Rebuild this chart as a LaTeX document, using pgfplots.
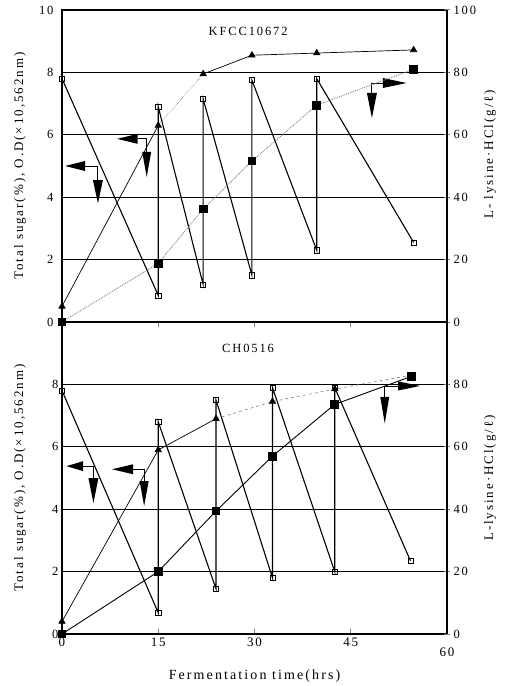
\documentclass[border=0pt]{standalone}
\usepackage{fontspec}
\setmainfont{Liberation Serif}
\newfontfamily\spfont[LetterSpace=15]{Liberation Serif}
\usepackage{pgfplots}
\pgfplotsset{compat=1.18}
\begin{document}
\begin{tikzpicture}
\useasboundingbox (-62pt,-364pt) rectangle (445pt,322pt);
\pgfplotsset{
  base/.style={scale only axis, width=385pt, height=312pt, xmin=0, xmax=60, clip=false,
    /pgf/number format/assume math mode=true,
    yticklabel style={font=\spfont\fontsize{12.5}{14}\selectfont},
    xticklabel style={font=\spfont\fontsize{13}{15}\selectfont},
    axis line style={line width=1.1pt}},
  leftax/.style={base, ymin=0, ymax=10, ytick pos=left, ytick style={draw=none},
    ymajorgrids, major grid style={black, line width=1pt},
    ylabel={Total sugar(\%), O.D(×10,562nm)},
    ylabel style={font=\spfont\fontsize{13}{15}\selectfont, at={(axis description cs:-0.109,0.5)}, anchor=center}},
  rightax/.style={base, ymin=0, ymax=100, axis y line*=right, axis x line=none,
    tick align=center, major tick length=6pt, ytick style={line width=1pt},
    ylabel style={font=\spfont\fontsize{13}{15}\selectfont, anchor=center}},
  sugar/.style={black, line width=1.1pt, mark=square, mark size=2.6pt, mark options={fill=white, line width=0.6pt}},
  od/.style={black, line width=0.7pt, mark=triangle*, mark size=3.6pt},
  lys/.style={black, line width=0.9pt, mark=square*, mark size=3.8pt},
}
% ---------------- top panel (KFCC10672) ----------------
\begin{axis}[leftax, at={(0,0)}, anchor=south west, ytick={0,2,...,10},
  xtick={15,30,45}, xticklabels={}, xtick pos=left, tick align=outside, major tick length=5pt,
  xtick style={line width=1pt}]
\addplot[sugar] coordinates {(0,7.8) (15,0.85) (15,6.9) (22,1.2) (22,7.15) (29.6,1.5) (29.6,7.75) (39.7,2.3) (39.7,7.8) (54.8,2.55)};
\addplot[od] coordinates {(0,0.5) (15,6.3)};
\addplot[gray, line width=0.6pt, densely dotted] coordinates {(15,6.3) (22,7.95)};
\addplot[od] coordinates {(22,7.95) (29.6,8.55) (39.7,8.62) (54.8,8.72)};
\node[font=\spfont\fontsize{12.5}{15}\selectfont] at (axis cs:29,9.3) {KFCC10672};
% annotations
\draw[line width=0.9pt] (axis cs:3.6,5.0) -- (axis cs:5.6,5.0) -- (axis cs:5.6,4.55);
\fill (axis cs:0.5,5.0) -- ([yshift=5pt]axis cs:3.6,5.0) -- ([yshift=-5pt]axis cs:3.6,5.0) -- cycle;
\fill ([xshift=-5pt]axis cs:5.6,4.55) -- ([xshift=5pt]axis cs:5.6,4.55) -- (axis cs:5.6,3.8) -- cycle;
\draw[line width=0.9pt] (axis cs:11.8,5.87) -- (axis cs:13.2,5.87) -- (axis cs:13.2,5.45);
\fill (axis cs:8.6,5.87) -- ([yshift=5pt]axis cs:11.8,5.87) -- ([yshift=-5pt]axis cs:11.8,5.87) -- cycle;
\fill ([xshift=-4.5pt]axis cs:13.2,5.45) -- ([xshift=4.5pt]axis cs:13.2,5.45) -- (axis cs:13.2,4.65) -- cycle;
\draw[line width=0.9pt] (axis cs:48.3,7.34) -- (axis cs:48.3,7.66) -- (axis cs:50.0,7.66);
\fill (axis cs:53.7,7.66) -- ([yshift=5pt]axis cs:50.0,7.66) -- ([yshift=-5pt]axis cs:50.0,7.66) -- cycle;
\fill ([xshift=-5pt]axis cs:48.3,7.34) -- ([xshift=5pt]axis cs:48.3,7.34) -- (axis cs:48.3,6.54) -- cycle;
\end{axis}
\begin{axis}[rightax, at={(0,0)}, anchor=south west, ytick={0,20,...,100},
  ylabel={L- lysine·HCl(g/ℓ)}, ylabel style={at={(axis description cs:1.112,0.538)}}]
\addplot[lys, gray, densely dotted, mark options={solid, black}] coordinates {(0,0) (15,18.8) (22,36.2) (29.6,51.6) (39.7,69.5) (54.8,81)};
\end{axis}
% ---------------- bottom panel (CH0516) ----------------
\begin{axis}[leftax, at={(0,0)}, anchor=north west, ytick={0,2,...,8},
  xtick={0,15,30,45,60}, xticklabels={0,15,30,45,\raisebox{-19pt}[0pt][0pt]{60}}, xtick pos=left, tick align=inside, major tick length=5pt,
  xtick style={line width=1pt},
  xlabel={Fermentation time(hrs)},
  xlabel style={font=\spfont\fontsize{14}{16}\selectfont, at={(axis description cs:0.5,0)}, yshift=-42pt, anchor=center}]
\addplot[sugar] coordinates {(0,7.8) (15,0.68) (15,6.8) (24,1.45) (24,7.5) (32.8,1.8) (32.8,7.9) (42.5,2.0) (42.5,7.9) (54.3,2.35)};
\addplot[od] coordinates {(0,0.4) (15,5.9) (24,6.9)};
\addplot[gray, line width=0.6pt, dashed] coordinates {(24,6.9) (32.8,7.45) (42.5,7.85) (54.5,8.3)};
\addplot[od, only marks] coordinates {(32.8,7.45) (42.5,7.85)};
\node[font=\spfont\fontsize{12.5}{15}\selectfont] at (axis cs:29,9.15) {CH0516};
% annotations
\draw[line width=0.9pt] (axis cs:3.3,5.38) -- (axis cs:4.9,5.38) -- (axis cs:4.9,5.0);
\fill (axis cs:0.7,5.38) -- ([yshift=5pt]axis cs:3.3,5.38) -- ([yshift=-5pt]axis cs:3.3,5.38) -- cycle;
\fill ([xshift=-5pt]axis cs:4.9,5.0) -- ([xshift=5pt]axis cs:4.9,5.0) -- (axis cs:4.9,4.2) -- cycle;
\draw[line width=0.9pt] (axis cs:11.1,5.28) -- (axis cs:12.8,5.28) -- (axis cs:12.8,4.9);
\fill (axis cs:7.8,5.28) -- ([yshift=5pt]axis cs:11.1,5.28) -- ([yshift=-5pt]axis cs:11.1,5.28) -- cycle;
\fill ([xshift=-4.5pt]axis cs:12.8,4.9) -- ([xshift=4.5pt]axis cs:12.8,4.9) -- (axis cs:12.8,4.1) -- cycle;
\draw[line width=0.9pt] (axis cs:50.3,7.6) -- (axis cs:50.3,7.95) -- (axis cs:52.4,7.95);
\fill (axis cs:55.8,7.95) -- ([yshift=4.5pt]axis cs:52.4,7.95) -- ([yshift=-4.5pt]axis cs:52.4,7.95) -- cycle;
\fill ([xshift=-4.5pt]axis cs:50.3,7.6) -- ([xshift=4.5pt]axis cs:50.3,7.6) -- (axis cs:50.3,6.75) -- cycle;
\end{axis}
\begin{axis}[rightax, at={(0,0)}, anchor=north west, ytick={0,20,...,80},
  ylabel={L-lysine·HCl(g/ℓ)}, ylabel style={at={(axis description cs:1.112,0.5)}}]
\addplot[lys] coordinates {(0,0) (15,20) (24,39.4) (32.8,57) (42.5,73.6) (54.5,82.6)};
\end{axis}
\end{tikzpicture}
\end{document}
